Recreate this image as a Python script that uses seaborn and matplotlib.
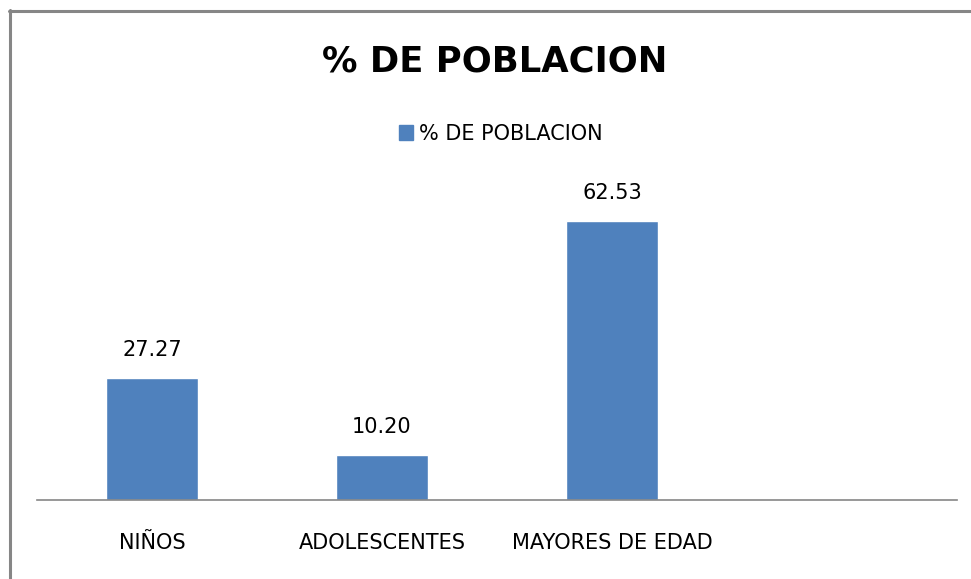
import matplotlib
matplotlib.use("Agg")
import matplotlib.pyplot as plt
import seaborn as sns
import pandas as pd
from matplotlib.lines import Line2D

categories = ["NIÑOS", "ADOLESCENTES", "MAYORES DE EDAD"]
values = [27.27, 10.20, 62.53]
value_labels = ["27.27", "10.20", "62.53"]
series_name = "% DE POBLACION"
title = "% DE POBLACION"

sns.set_theme(style="white")
plt.rcParams["font.family"] = ["DejaVu Sans"]

W, H = 971, 579
fig = plt.figure(figsize=(W / 100, H / 100), dpi=100)
ax = fig.add_axes([37 / W, (H - 500) / H, 920 / W, 340 / H])

df = pd.DataFrame({"cat": categories, "val": values, "series": series_name})
sns.barplot(data=df, x="cat", y="val", hue="series", palette=["#4F81BD"],
            width=0.4, ax=ax, legend=False, saturation=1)

ax.set_xlim(-0.5, 3.5)
ax.set_ylim(0, 340 / 4.46)
ax.set_xlabel("")
ax.set_ylabel("")
ax.set_yticks([])
for s in ["top", "right", "left"]:
    ax.spines[s].set_visible(False)
ax.spines["bottom"].set_color("#868686")
ax.spines["bottom"].set_linewidth(1.2)
ax.tick_params(axis="x", length=0, pad=24, labelsize=15, labelcolor="black")

for p, lab in zip(ax.patches, value_labels):
    ax.annotate(lab, (p.get_x() + p.get_width() / 2, p.get_height()),
                xytext=(0, 18), textcoords="offset pixels",
                ha="center", va="bottom", fontsize=15, color="black")

fig.text(495 / W, 1 - 61 / H, title, ha="center", va="center",
         fontsize=25.5, fontweight="bold", color="black")

handles = [plt.Rectangle((0, 0), 1, 1, color="#4F81BD")]
fig.legend(handles, [series_name], loc="center", bbox_to_anchor=(501 / W, 1 - 134 / H),
           frameon=False, fontsize=15, handlelength=0.65, handleheight=0.7,
           handletextpad=0.3, labelcolor="black")

fig.add_artist(Line2D([9.5 / W, 9.5 / W], [0, 1 - 10 / H], transform=fig.transFigure,
                      color="#868686", linewidth=2.2))
fig.add_artist(Line2D([9 / W, 1], [1 - 11 / H, 1 - 11 / H], transform=fig.transFigure,
                      color="#868686", linewidth=2.2))

fig.savefig("out.png", dpi=100, facecolor="white")
